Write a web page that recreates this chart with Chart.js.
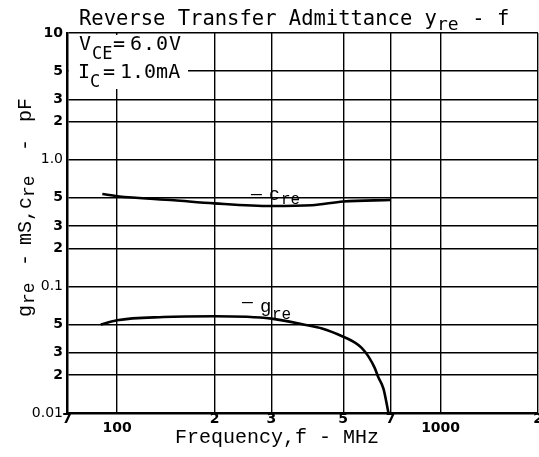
<!DOCTYPE html>
<html>
<head>
<meta charset="utf-8">
<script src="https://cdn.jsdelivr.net/npm/chart.js@4.4.1/dist/chart.umd.min.js"></script>
<style>
  html, body { margin: 0; padding: 0; background: #fff; }
  #wrap { width: 539px; height: 457px; position: relative; }
</style>
</head>
<body>
<div id="wrap"><canvas id="yreChart"></canvas></div>
<script>
// ── Data ───────────────────────────────────────────────────
const freqTicks      = [70, 100, 200, 300, 500, 700, 1000, 2000];
const freqTickLabels = ['7', '100', '2', '3', '5', '7', '1000', '2'];

const yTicks      = [0.01, 0.02, 0.03, 0.05, 0.1, 0.2, 0.3, 0.5, 1, 2, 3, 5, 10];
const yTickLabels = ['0.01', '2', '3', '5', '0.1', '2', '3', '5', '1.0', '2', '3', '5', '10'];

// -c_re (pF)
const creFreq   = [90, 100, 150, 200, 300, 400, 500, 700];
const creValues = [0.535, 0.515, 0.478, 0.452, 0.431, 0.437, 0.468, 0.48];

// -g_re (mS)
const greFreq   = [89, 100, 139, 200, 300, 383, 430, 500, 545, 570, 598, 626, 641, 666, 690];
const greValues = [0.05, 0.054, 0.0572, 0.058, 0.0556, 0.0495, 0.0464, 0.04, 0.0358, 0.0327, 0.028, 0.0226, 0.0193, 0.0155, 0.01];

const MONO     = '"Liberation Mono", monospace';
const SANSMONO = '"DejaVu Sans Mono", monospace';

function toPoints(xs, ys) {
  return xs.map((x, i) => ({ x: x, y: ys[i] }));
}

function put(ctx, text, x, y, font, spacing) {
  ctx.font = font;
  ctx.letterSpacing = spacing || '0px';
  ctx.fillText(text, x, y);
}

// ── Typed labels of the original sheet ─────────────────────
const paperText = {
  id: 'paperText',
  beforeDraw(chart) {
    const ctx = chart.ctx;
    ctx.save();
    ctx.fillStyle = '#fff';
    ctx.fillRect(0, 0, chart.width, chart.height);
    ctx.restore();
  },
  afterDraw(chart) {
    const ctx = chart.ctx;
    ctx.save();
    ctx.fillStyle = '#000';
    ctx.textBaseline = 'alphabetic';
    ctx.textAlign = 'left';

    // title
    put(ctx, 'Reverse Transfer Admittance y', 79, 25, '20.5px ' + SANSMONO);
    put(ctx, 're', 437, 30, '18px ' + SANSMONO);
    put(ctx, ' - f', 460, 25, '20.5px ' + SANSMONO);

    // bias conditions box
    ctx.fillStyle = '#fff';
    ctx.fillRect(69, 35, 119, 54);
    ctx.fillStyle = '#000';
    put(ctx, 'V', 79, 50, '20px ' + SANSMONO);
    put(ctx, 'CE', 92, 59, '17px ' + SANSMONO);
    put(ctx, '=', 113, 50, '20px ' + SANSMONO);
    put(ctx, '6.0V', 130, 50, '20px ' + SANSMONO, '1px');
    put(ctx, 'I', 78, 78, '20px ' + SANSMONO);
    put(ctx, 'C', 90, 87, '17px ' + SANSMONO);
    put(ctx, '=', 103, 78, '20px ' + SANSMONO);
    put(ctx, '1.0mA', 120, 78, '20px ' + SANSMONO);

    // curve labels
    put(ctx, '\u2014', 251, 199, '18px ' + MONO);
    put(ctx, 'c', 269, 200, '18px ' + MONO);
    put(ctx, 're', 281, 204, '16px ' + MONO);

    put(ctx, '\u2014', 242, 307, '18px ' + MONO);
    put(ctx, 'g', 260, 312, '19px ' + MONO);
    put(ctx, 're', 272, 319, '16px ' + MONO);

    // x axis title
    put(ctx, 'Frequency,f - MHz', 175, 443, '20px ' + MONO);

    // y axis title (rotated)
    ctx.save();
    ctx.translate(31, 317);
    ctx.rotate(-Math.PI / 2);
    const yTitle = [
      ['g', 0, 0, 20], ['re', 13, 3, 18], ['-', 51, 0, 20], ['mS,c', 72, 0, 20],
      ['re', 120, 3, 18], ['-', 166, 0, 20], ['pF', 195, 0, 20],
    ];
    yTitle.forEach(([t, dx, dy, sz]) => put(ctx, t, dx, dy, sz + 'px ' + MONO));
    ctx.restore();

    ctx.restore();
  },
};

const gridOpts   = { color: '#000', lineWidth: 1.4, drawTicks: false };
const borderOpts = { color: '#000', width: 2.5 };

new Chart(document.getElementById('yreChart'), {
  type: 'line',
  data: {
    datasets: [
      {
        label: '-cre',
        data: toPoints(creFreq, creValues),
        borderColor: '#000',
        borderWidth: 2.6,
        pointRadius: 0,
        cubicInterpolationMode: 'monotone',
        fill: false,
      },
      {
        label: '-gre',
        data: toPoints(greFreq, greValues),
        borderColor: '#000',
        borderWidth: 2.6,
        pointRadius: 0,
        cubicInterpolationMode: 'monotone',
        fill: false,
      },
    ],
  },
  options: {
    responsive: true,
    maintainAspectRatio: false,
    animation: false,
    layout: { padding: { top: 33, right: 1, bottom: 0, left: 0 } },
    plugins: {
      legend: { display: false },
      tooltip: { enabled: false },
    },
    scales: {
      x: {
        type: 'logarithmic',
        min: 70,
        max: 2000,
        afterBuildTicks: s => { s.ticks = freqTicks.map(v => ({ value: v })); },
        afterFit: s => { s.height = 44; s.paddingLeft = 0; s.paddingRight = 0; },
        ticks: {
          autoSkip: false,
          maxRotation: 0,
          minRotation: 0,
          padding: 0,
          color: '#000',
          callback: (v, i) => {
            const lbl = freqTickLabels[i];
            return lbl.length > 1 ? ['', lbl] : lbl;
          },
          font: ctx => {
            const lbl = freqTickLabels[ctx.index] || '';
            return {
              family: '"DejaVu Sans", sans-serif',
              size: 14,
              weight: 'bold',
              lineHeight: lbl.length > 1 ? '10px' : '12px',
            };
          },
        },
        grid: gridOpts,
        border: borderOpts,
      },
      y: {
        type: 'logarithmic',
        min: 0.01,
        max: 10,
        afterBuildTicks: s => { s.ticks = yTicks.map(v => ({ value: v })); },
        afterFit: s => { s.width = 67; s.paddingTop = 0; s.paddingBottom = 0; },
        ticks: {
          autoSkip: false,
          padding: 4,
          color: '#000',
          callback: (v, i) => yTickLabels[i],
          font: ctx => {
            const lbl = yTickLabels[ctx.index] || '';
            const decimal = lbl.indexOf('.') >= 0;
            return {
              family: '"DejaVu Sans", sans-serif',
              size: decimal ? 14 : 14,
              weight: decimal ? 'normal' : 'bold',
            };
          },
        },
        grid: gridOpts,
        border: borderOpts,
      },
    },
  },
  plugins: [paperText],
});
</script>
</body>
</html>
